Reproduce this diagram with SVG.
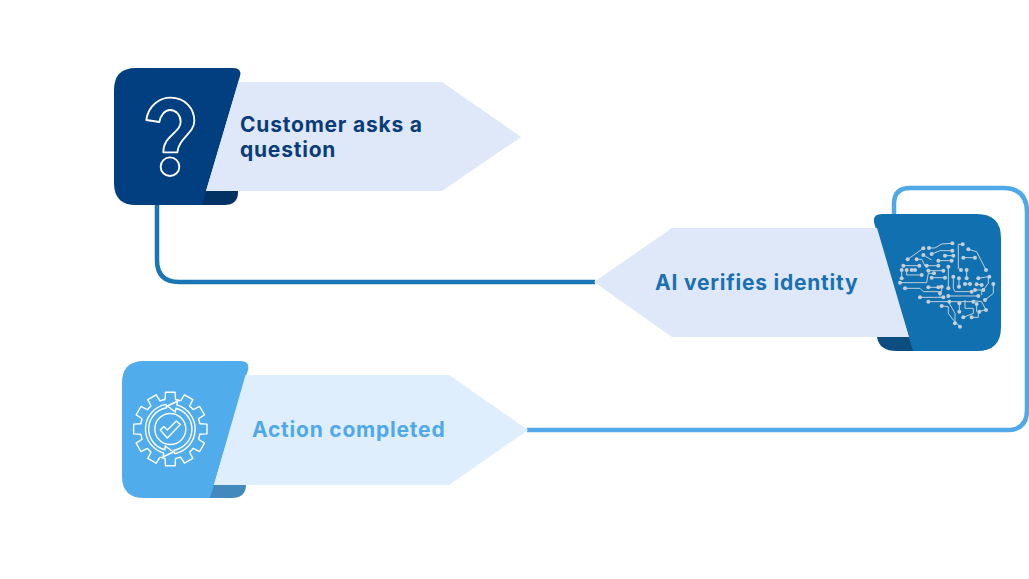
<svg xmlns="http://www.w3.org/2000/svg" width="1029" height="579" viewBox="0 0 1029 579">
<style>
text{font-family:"Inter","Liberation Sans",sans-serif;font-weight:700;font-size:21px;letter-spacing:.78px}
.conn{fill:none;stroke-width:4.5}
.ol{fill:none;stroke:#fff;stroke-linejoin:round}
.br{fill:none;stroke:#c3cfd9;stroke-width:3}
.dots{fill:#c3cfd9}
</style>
<defs>
<path id="seg" d="M-5.2-29.5L-4.83-36.68L4.83-36.68L5.2-29.5A30 30 0 0 1 10.26-28.19"/>
<path id="band" d="M4.3 24.6A25 25 0 0 0 6.5-24.1L7.5-28L-3-23L5-17L5.6-20.8A21.5 21.5 0 0 1 3.7 21.2Z"/>
</defs>
<rect width="1029" height="579" fill="#fff"/>
<g id="connectors">
<path class="conn" stroke="#1a75b5" d="M157 204V260Q157 282 179 282H595"/>
<path class="conn" stroke="#4fa9e8" d="M527 430H1007Q1027 430 1027 410V212Q1027 188 1003 188H910Q894 188 894 204V215"/>
</g>
<g id="node-customer">
<path fill="#023263" d="M195 191H238V192Q238 205 224 205H195Z"/>
<path fill="#023f80" d="M136 68H233Q242 68 240 76L202 205H136Q114 205 114 183V90Q114 68 136 68Z"/>
<path fill="#dfe8f8" d="M238.500 82H442L521 137L442 191H206Z"/>
<g class="ol" transform="translate(100 55) scale(.3333)" style="stroke-width:5.6">
<path d="M139 195C145 150 180 128 212 128C255 128 283 160 283 198C283 235 235 250 232 292L190 292C190 240 242 235 242 200C242 180 228 165 210 165C195 165 182 180 178 201Z"/>
<circle cx="210" cy="335" r="28"/>
</g>
<text x="240" y="132" fill="#0a3d78">Customer asks a</text>
<text x="240" y="157" fill="#0a3d78">question</text>
</g>
<g id="node-ai">
<path fill="#0d4d80" d="M877 337H925V351H897Q879 351 877 337Z"/>
<path fill="#1170b0" d="M882 214H977Q1001 214 1001 238V327Q1001 351 977 351H913L875 226Q871 214 882 214Z"/>
<path fill="#dfe8f8" d="M594 282L672 228H877L909 337H672Z"/>
<g transform="translate(860 180) scale(.3333)">
<path class="br" d="M143 238L190 205M207 204H225L245 192L277 190M215 222L240 212H277M255 227H280M308 193H295V265L303 270M325 208L350 215L378 270M310 233H345M130 257H178M170 238H185L195 258M200 257H235M190 225L215 240M235 242H275M205 272H250M125 270V295M140 270V285H185M155 270H165M120 308H200L205 280H222M215 293H255M135 325H180L190 335H245V320M205 322H235M265 260V325M280 290V325L285 335H335M297 295V320M320 270V295M240 340V350M180 352H250M265 348H355M205 365H265L285 400L285 430M245 378L265 380V400L280 420L300 440M268 365H340M355 295L385 290V310L370 330M400 312V340L375 360M340 362L365 365L378 390M350 313L370 315M345 330H365V345M315 312H330M298 370V395M315 360V385H340V400L310 412M335 412H355V395L375 390M350 372V395"/>
<g class="dots">
<circle cx="143" cy="238" r="6"/><circle cx="190" cy="205" r="6"/><circle cx="207" cy="204" r="6"/><circle cx="277" cy="190" r="6"/><circle cx="215" cy="222" r="6"/><circle cx="277" cy="212" r="6"/><circle cx="255" cy="227" r="6"/><circle cx="280" cy="227" r="6"/><circle cx="308" cy="193" r="6"/><circle cx="303" cy="270" r="6"/><circle cx="325" cy="208" r="6"/><circle cx="378" cy="270" r="6"/><circle cx="310" cy="233" r="6"/><circle cx="345" cy="233" r="6"/><circle cx="130" cy="257" r="6"/><circle cx="178" cy="257" r="6"/><circle cx="170" cy="238" r="6"/><circle cx="200" cy="257" r="6"/><circle cx="235" cy="257" r="6"/><circle cx="190" cy="225" r="6"/><circle cx="235" cy="242" r="6"/><circle cx="275" cy="242" r="6"/><circle cx="205" cy="272" r="6"/><circle cx="250" cy="272" r="6"/><circle cx="125" cy="270" r="6"/><circle cx="125" cy="295" r="6"/><circle cx="140" cy="270" r="6"/><circle cx="185" cy="285" r="6"/><circle cx="155" cy="270" r="6"/><circle cx="165" cy="270" r="6"/><circle cx="120" cy="308" r="6"/><circle cx="222" cy="280" r="6"/><circle cx="215" cy="293" r="6"/><circle cx="255" cy="293" r="6"/><circle cx="135" cy="325" r="6"/><circle cx="245" cy="320" r="6"/><circle cx="205" cy="322" r="6"/><circle cx="235" cy="322" r="6"/><circle cx="265" cy="260" r="6"/><circle cx="265" cy="325" r="6"/><circle cx="280" cy="290" r="6"/><circle cx="335" cy="335" r="6"/><circle cx="297" cy="295" r="6"/><circle cx="297" cy="320" r="6"/><circle cx="320" cy="270" r="6"/><circle cx="320" cy="295" r="6"/><circle cx="240" cy="340" r="6"/><circle cx="180" cy="352" r="6"/><circle cx="250" cy="352" r="6"/><circle cx="265" cy="348" r="6"/><circle cx="355" cy="348" r="6"/><circle cx="205" cy="365" r="6"/><circle cx="285" cy="430" r="6"/><circle cx="245" cy="378" r="6"/><circle cx="300" cy="440" r="6"/><circle cx="268" cy="365" r="6"/><circle cx="340" cy="365" r="6"/><circle cx="355" cy="295" r="6"/><circle cx="388" cy="290" r="6"/><circle cx="370" cy="330" r="6"/><circle cx="400" cy="312" r="6"/><circle cx="375" cy="360" r="6"/><circle cx="378" cy="390" r="6"/><circle cx="350" cy="313" r="6"/><circle cx="365" cy="315" r="6"/><circle cx="345" cy="330" r="6"/><circle cx="315" cy="312" r="6"/><circle cx="330" cy="312" r="6"/><circle cx="298" cy="370" r="6"/><circle cx="298" cy="395" r="6"/><circle cx="310" cy="412" r="6"/><circle cx="335" cy="412" r="6"/><circle cx="350" cy="372" r="6"/><circle cx="358" cy="395" r="6"/>
</g>
</g>
<text x="655" y="290" fill="#1a70b0">AI verifies identity</text>
</g>
<g id="node-action">
<path fill="#4489bd" d="M200 485H246V486Q245 498 232 498H200Z"/>
<path fill="#50aceb" d="M144 361H240Q250 361 248 370L210 498H144Q122 498 122 476V383Q122 361 144 361Z"/>
<path fill="#dfeefc" d="M245.500 375H449L528 430L449 485H214Z"/>
<g class="ol" stroke-width="1.4" transform="translate(170.300 429)">
<use href="#seg"/><use href="#seg" transform="rotate(30)"/><use href="#seg" transform="rotate(60)"/><use href="#seg" transform="rotate(90)"/><use href="#seg" transform="rotate(120)"/><use href="#seg" transform="rotate(150)"/><use href="#seg" transform="rotate(180)"/><use href="#seg" transform="rotate(210)"/><use href="#seg" transform="rotate(240)"/><use href="#seg" transform="rotate(270)"/><use href="#seg" transform="rotate(300)"/><use href="#seg" transform="rotate(330)"/>
<use href="#band"/><use href="#band" transform="rotate(180)"/>
<circle r="15.5"/>
<path d="M-10 1L-6.500-2.500L-3 1L6-8L10-4.500L-3 9Z"/>
</g>
<text x="252" y="437" fill="#4fa9e8">Action completed</text>
</g>
</svg>
